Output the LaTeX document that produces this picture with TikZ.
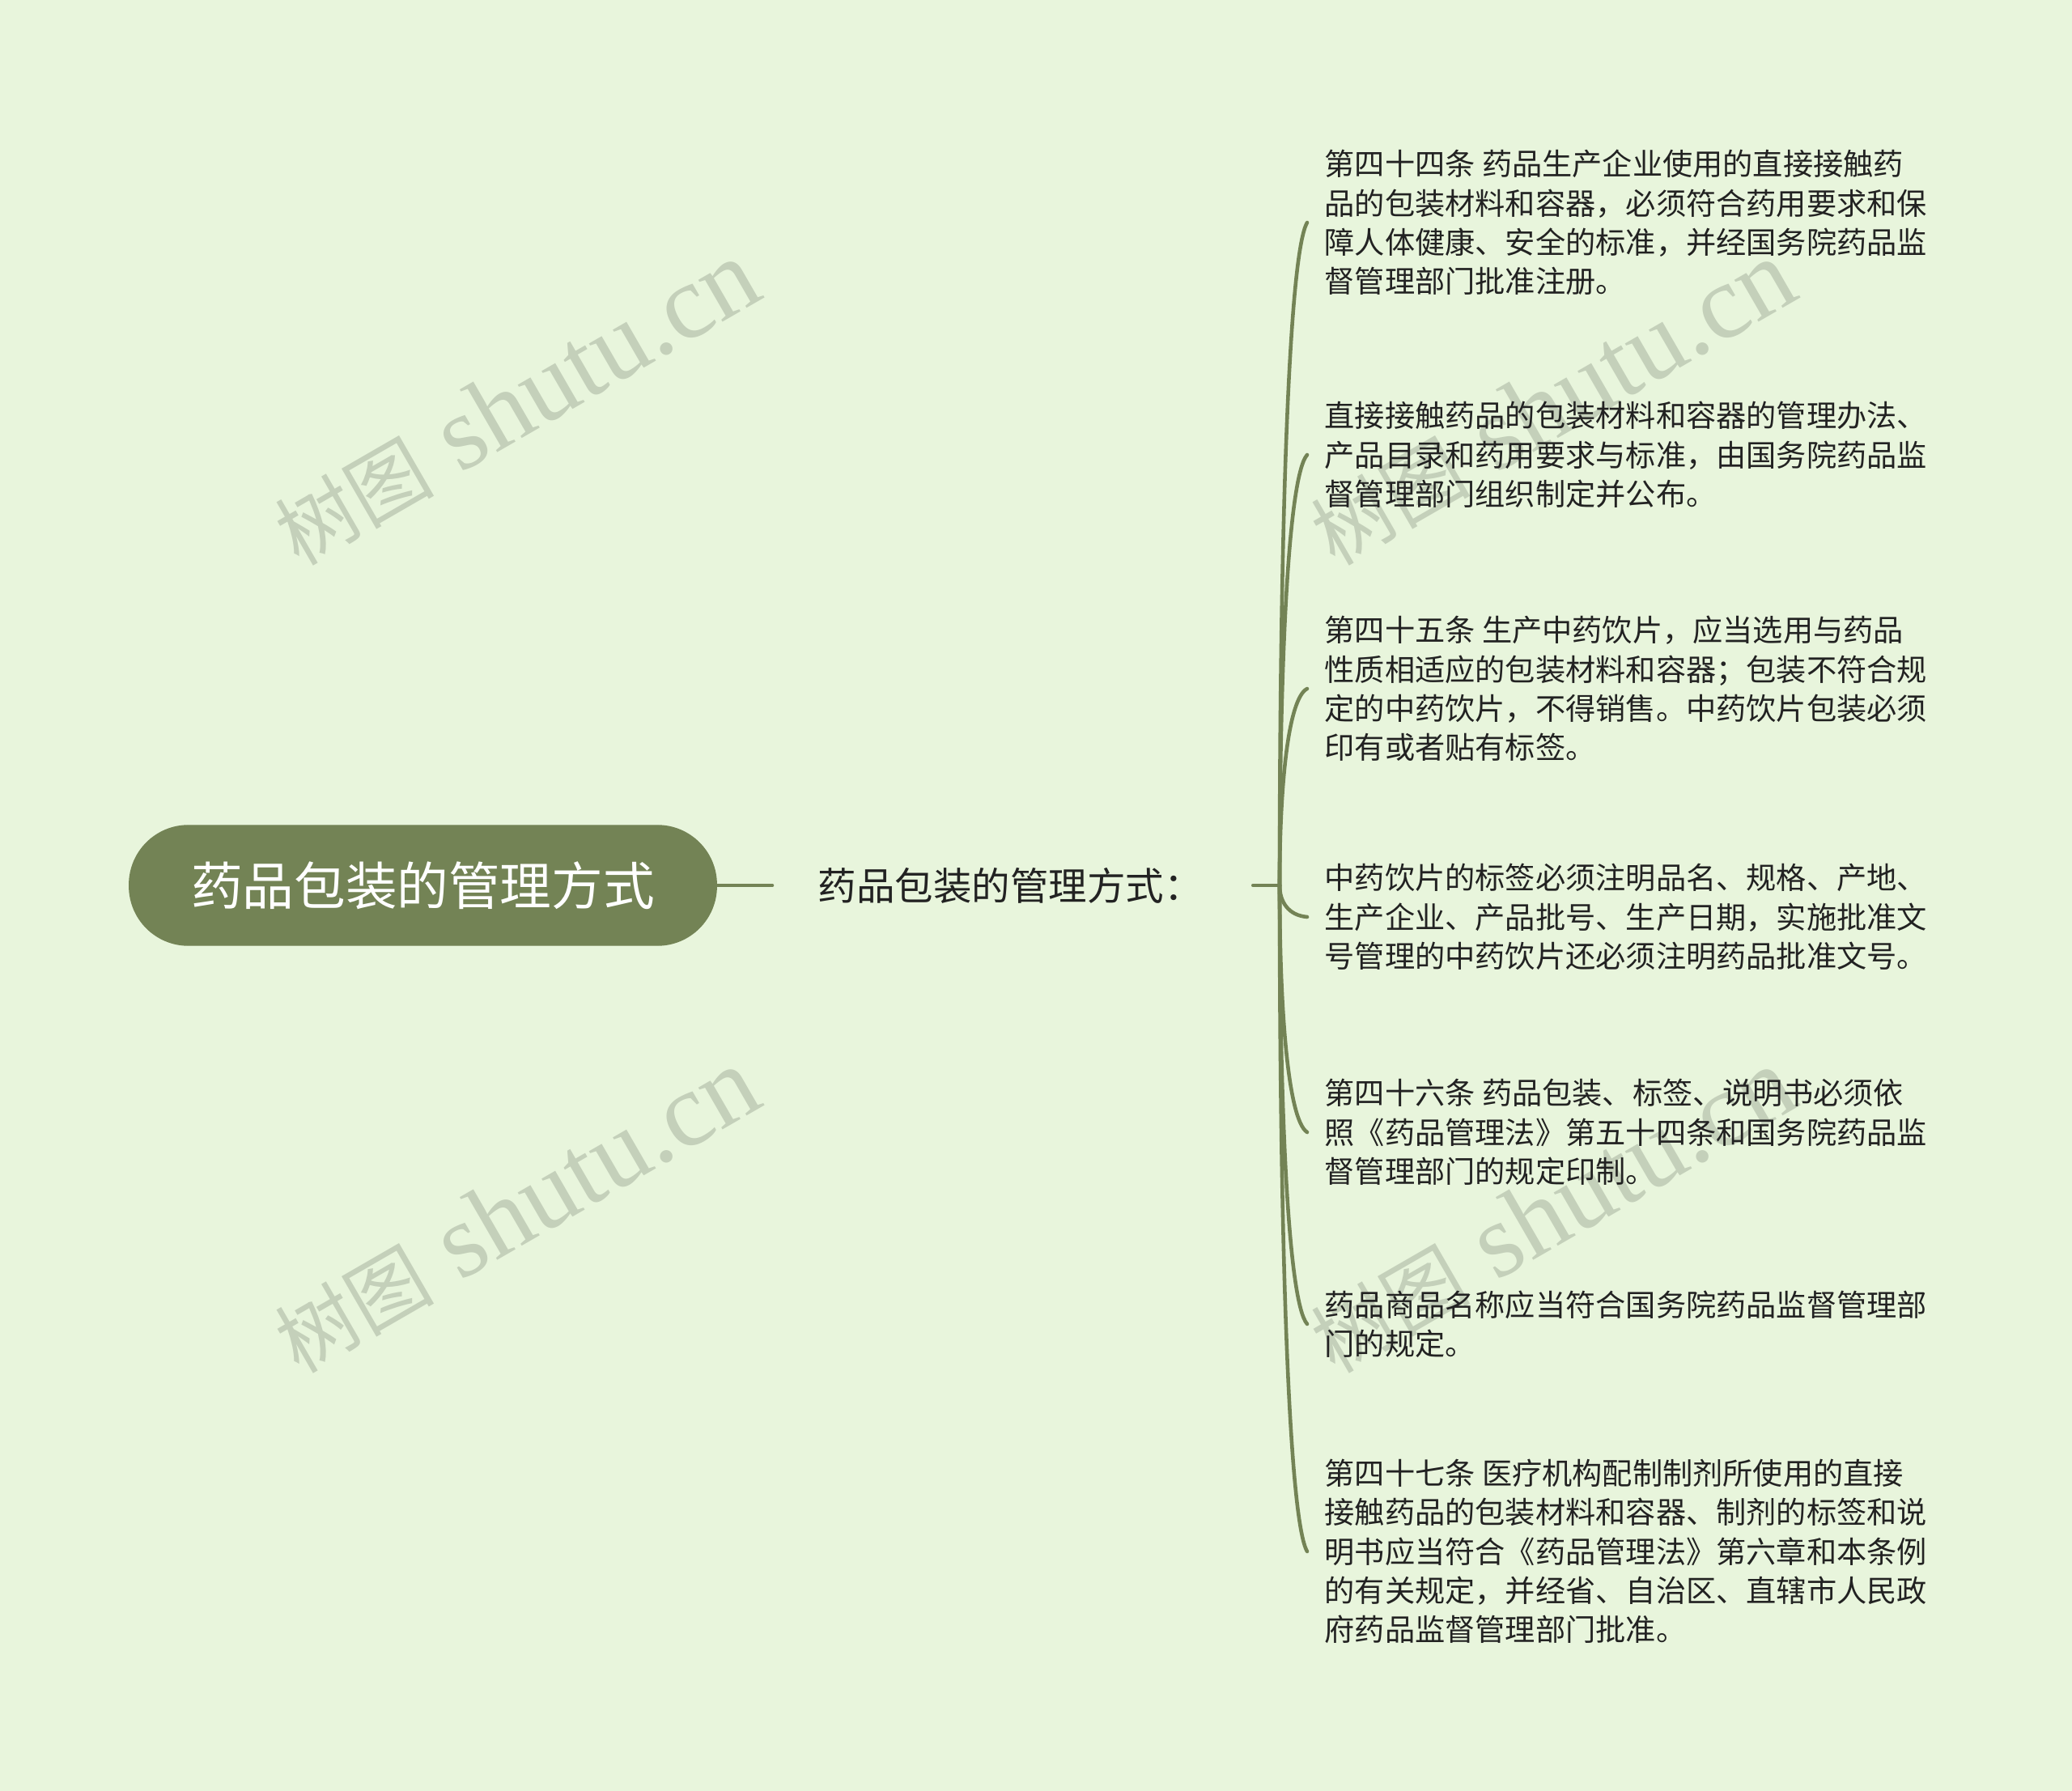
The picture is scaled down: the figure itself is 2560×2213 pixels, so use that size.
\documentclass[tikz,border=0pt]{standalone}
\usepackage{fontspec}
\setmainfont{Noto Sans CJK SC}
\newfontfamily\wmlatin{Liberation Serif}
\newfontfamily\wmcjk{Noto Sans CJK SC}
\usetikzlibrary{calc}
\definecolor{bgc}{RGB}{232,245,220}
\definecolor{nodec}{RGB}{115,131,85}
\definecolor{txtc}{RGB}{34,34,34}
\definecolor{wmc}{RGB}{196,208,186}
\tikzset{
  conn/.style={draw=nodec, line width=1.3pt, line cap=round},
  leaf/.style={anchor=west, align=left, inner xsep=0.21cm, inner ysep=0pt, text=txtc,
    font=\fontsize{10.58pt}{13.74pt}\selectfont},
  rootbox/.style={fill=nodec, draw=nodec, rounded corners=0.73cm, minimum width=7.25cm,
    minimum height=1.48cm, inner sep=0pt, text=white, font=\fontsize{18.1pt}{22pt}\selectfont},
  midbox/.style={anchor=west, inner xsep=0.56cm, inner ysep=0pt, text=txtc,
    font=\fontsize{13.5pt}{16pt}\selectfont},
  wm/.style={anchor=base west, rotate=30, inner sep=0pt, text=wmc}
}
\begin{document}
\begin{tikzpicture}[x=0.01cm,y=-0.01cm]
\fill[bgc] (0,0) rectangle (2560,2213);
\useasboundingbox (0,0) rectangle (2560,2213);
% watermarks
\foreach \dx/\dy in {0/0,1280/0,0/998,1280/998}{
  \node[wm] at (369+\dx,701+\dy) {{\wmcjk\fontsize{28pt}{30pt}\selectfont 树图}{\wmlatin\fontsize{37pt}{40pt}\selectfont\ shutu.cn}};
}
% root and middle
\node[rootbox] (root) at (522.5,1094) {药品包装的管理方式};
\node[midbox] (mid) at (954,1094) {药品包装的管理方式：};
\coordinate (T) at (1581,1094);
\draw[conn] (root.east) -- (mid.west);
\draw[conn] ([xshift=0.06cm]mid.east) -- (T);
% leaves
\node[leaf] (c1) at (1615,275) {第四十四条 药品生产企业使用的直接接触药\\品的包装材料和容器，必须符合药用要求和保\\障人体健康、安全的标准，并经国务院药品监\\督管理部门批准注册。};
\node[leaf] (c2) at (1615,562) {直接接触药品的包装材料和容器的管理办法、\\产品目录和药用要求与标准，由国务院药品监\\督管理部门组织制定并公布。};
\node[leaf] (c3) at (1615,851) {第四十五条 生产中药饮片，应当选用与药品\\性质相适应的包装材料和容器；包装不符合规\\定的中药饮片，不得销售。中药饮片包装必须\\印有或者贴有标签。};
\node[leaf] (c4) at (1615,1133) {中药饮片的标签必须注明品名、规格、产地、\\生产企业、产品批号、生产日期，实施批准文\\号管理的中药饮片还必须注明药品批准文号。};
\node[leaf] (c5) at (1615,1399) {第四十六条 药品包装、标签、说明书必须依\\照《药品管理法》第五十四条和国务院药品监\\督管理部门的规定印制。};
\node[leaf] (c6) at (1615,1636) {药品商品名称应当符合国务院药品监督管理部\\门的规定。};
\node[leaf] (c7) at (1615,1917) {第四十七条 医疗机构配制制剂所使用的直接\\接触药品的包装材料和容器、制剂的标签和说\\明书应当符合《药品管理法》第六章和本条例\\的有关规定，并经省、自治区、直辖市人民政\\府药品监督管理部门批准。};
\foreach \i in {1,...,7}{
  \path ($(T)!0.3!(c\i.west)$) coordinate (p\i) ($(T)!0.95!(c\i.west)$) coordinate (q\i);
  \draw[conn] (T) .. controls ($(T)!0.5!(T|-c\i.west)$) and (p\i|-q\i) .. (c\i.west);
}
\end{tikzpicture}
\end{document}
